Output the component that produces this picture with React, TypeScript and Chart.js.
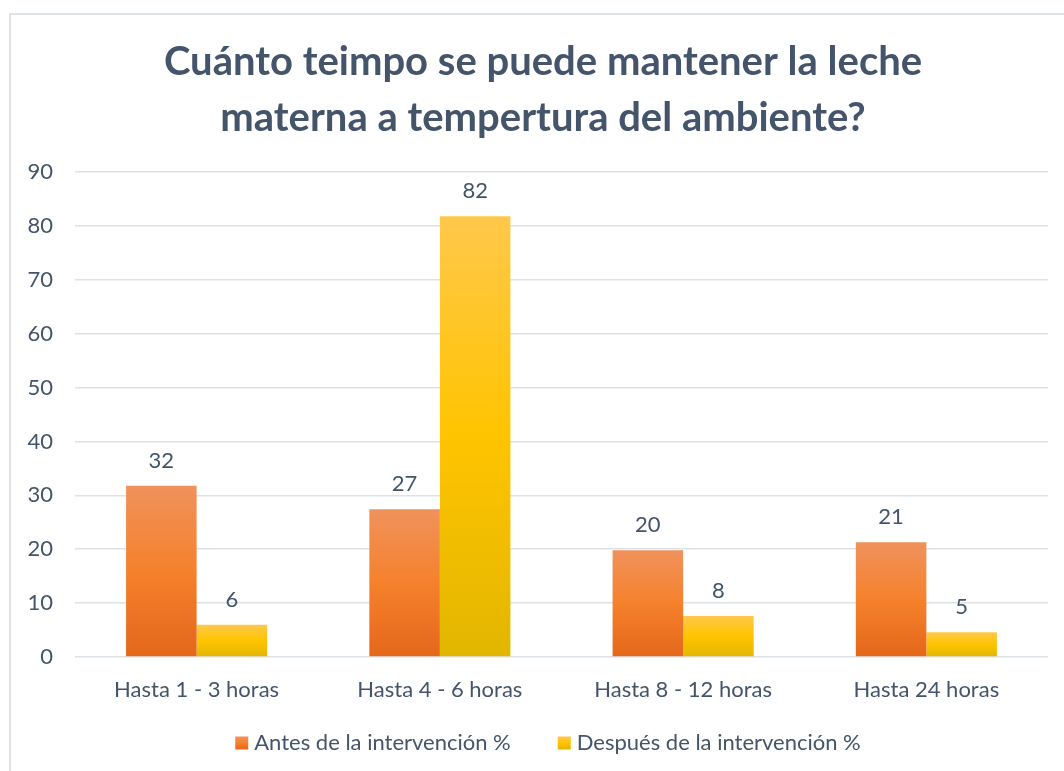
import { useEffect, useRef } from 'react';
import { Chart, registerables } from 'chart.js';

Chart.register(...registerables);

const categories = ['Hasta 1 - 3 horas', 'Hasta 4 - 6 horas', 'Hasta 8 - 12 horas', 'Hasta 24 horas'];
const antes = [31.8, 27.4, 19.8, 21.3];
const despues = [6.0, 81.8, 7.6, 4.6];
const seriesNames = ['Antes de la intervención %', 'Después de la intervención %'];
const titleLines = ['Cuánto teimpo se puede mantener la leche', 'materna a tempertura del ambiente?'];
const yMin = 0;
const yMax = 90;
const yStep = 10;

const TEXT = '#44546A';
const orangeStops = ['#F0925C', '#F5812C', '#E4671A'];
const yellowStops = ['#FFC84A', '#FFC400', '#E2B600'];
const seriesStops = [orangeStops, yellowStops];

function gradient(stops: string[]) {
  return (ctx: any) => {
    const chart = ctx.chart;
    if (!chart.chartArea || ctx.type !== 'data') return stops[1];
    const y = chart.scales.y;
    const top = y.getPixelForValue(ctx.raw);
    const bottom = y.getPixelForValue(0);
    if (!isFinite(top) || !isFinite(bottom) || top === bottom) return stops[1];
    const g = chart.ctx.createLinearGradient(0, top, 0, bottom);
    g.addColorStop(0, stops[0]);
    g.addColorStop(0.5, stops[1]);
    g.addColorStop(1, stops[2]);
    return g;
  };
}

const valueLabels = {
  id: 'valueLabels',
  afterDatasetsDraw(chart: any) {
    const ctx = chart.ctx;
    ctx.save();
    ctx.font = '22px Lato';
    ctx.fillStyle = TEXT;
    ctx.textAlign = 'center';
    ctx.textBaseline = 'middle';
    chart.data.datasets.forEach((ds: any, i: number) => {
      chart.getDatasetMeta(i).data.forEach((bar: any, j: number) => {
        ctx.fillText(String(Math.round(ds.data[j])), bar.x, bar.y - 25);
      });
    });
    ctx.restore();
  },
};

const frame = {
  id: 'frame',
  beforeDraw(chart: any) {
    const ctx = chart.ctx;
    ctx.save();
    ctx.fillStyle = '#ffffff';
    ctx.fillRect(0, 0, chart.width, chart.height);
    ctx.strokeStyle = '#dfe4eb';
    ctx.lineWidth = 2;
    ctx.strokeRect(10, 14, chart.width + 50, chart.height + 50);
    ctx.restore();
  },
};

const customTitle = {
  id: 'customTitle',
  afterDraw(chart: any) {
    const ctx = chart.ctx;
    ctx.save();
    ctx.font = 'bold 40px Lato';
    ctx.fillStyle = TEXT;
    ctx.textAlign = 'center';
    ctx.textBaseline = 'middle';
    titleLines.forEach((line, i) => {
      ctx.fillText(line, 543, 62 + i * 56);
    });
    ctx.restore();
  },
};

const customLegend = {
  id: 'customLegend',
  afterDraw(chart: any) {
    const ctx = chart.ctx;
    ctx.save();
    ctx.font = '22px Lato';
    ctx.textBaseline = 'middle';
    ctx.textAlign = 'left';
    const box = 13;
    const gapText = 6;
    const gapItem = 47;
    const widths = seriesNames.map((n) => ctx.measureText(n).width);
    const total = widths.reduce((a, w) => a + box + gapText + w, 0) + gapItem * (seriesNames.length - 1);
    let x = 548 - total / 2;
    const y = 743;
    seriesNames.forEach((name, i) => {
      const stops = seriesStops[i];
      const g = ctx.createLinearGradient(0, y - box / 2, 0, y + box / 2);
      g.addColorStop(0, stops[0]);
      g.addColorStop(0.5, stops[1]);
      g.addColorStop(1, stops[2]);
      ctx.fillStyle = g;
      ctx.fillRect(x, y - box / 2, box, box);
      x += box + gapText;
      ctx.fillStyle = TEXT;
      ctx.fillText(name, x, y);
      x += widths[i] + gapItem;
    });
    ctx.restore();
  },
};

export default function App() {
  const ref = useRef<HTMLCanvasElement>(null);
  useEffect(() => {
    document.body.style.margin = '0';
    Chart.defaults.font.family = 'Lato';
    const chart = new Chart(ref.current as HTMLCanvasElement, {
      type: 'bar',
      data: {
        labels: categories,
        datasets: [
          { label: seriesNames[0], data: antes, backgroundColor: gradient(orangeStops) as any },
          { label: seriesNames[1], data: despues, backgroundColor: gradient(yellowStops) as any },
        ],
      },
      options: {
        animation: false,
        responsive: true,
        maintainAspectRatio: false,
        layout: { padding: { left: 10, right: 16, top: 172, bottom: 68 } },
        datasets: { bar: { categoryPercentage: 0.58, barPercentage: 1 } },
        scales: {
          x: {
            grid: { display: false },
            border: { display: false },
            ticks: { color: TEXT, font: { size: 22 }, padding: 12 },
            afterFit(scale: any) { scale.height = 46; },
          },
          y: {
            min: yMin,
            max: yMax,
            grid: { color: '#dde1e8', lineWidth: 1.5, drawTicks: false },
            border: { display: false },
            ticks: { stepSize: yStep, color: TEXT, font: { size: 22 }, padding: 22 },
            afterFit(scale: any) { scale.width = 65; },
          },
        },
        plugins: {
          title: { display: false },
          legend: { display: false },
          tooltip: { enabled: false },
        },
      },
      plugins: [frame, valueLabels, customTitle, customLegend],
    });
    return () => chart.destroy();
  }, []);
  return (
    <div style={{ width: 1064, height: 771, position: 'relative' }}>
      <canvas ref={ref} />
    </div>
  );
}
